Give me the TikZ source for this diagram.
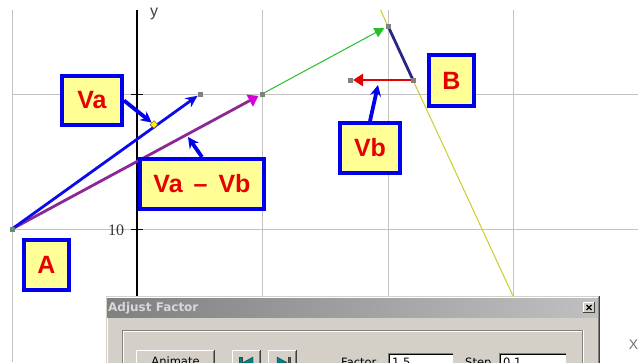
\documentclass[tikz,border=0pt]{standalone}
\usepackage{fontspec}
\setmainfont{Liberation Sans}
\newfontfamily\dlgfont{DejaVu Sans}
\newfontfamily\serf{Liberation Serif}
\usetikzlibrary{arrows.meta,shapes.geometric}
\definecolor{boxyellow}{RGB}{255,255,150}
\definecolor{boxblue}{RGB}{0,0,235}
\definecolor{labred}{RGB}{230,0,0}
\definecolor{gridgray}{RGB}{195,195,195}
\definecolor{vapurple}{RGB}{140,40,150}
\definecolor{vamag}{RGB}{215,0,215}
\definecolor{navyline}{RGB}{40,40,130}
\definecolor{yelline}{RGB}{205,205,40}
\definecolor{grnline}{RGB}{40,190,40}
\definecolor{dlgbg}{RGB}{212,208,200}
\definecolor{ptgray}{RGB}{128,128,128}
\definecolor{dkgray}{RGB}{64,64,64}
\definecolor{iconteal}{RGB}{0,128,128}
\definecolor{vablue}{RGB}{10,10,235}
\definecolor{ptgreen}{RGB}{100,140,120}
\definecolor{titletext}{RGB}{215,215,215}
\definecolor{titleleft}{RGB}{128,128,128}
\definecolor{titleright}{RGB}{192,192,192}
\tikzset{
  lab/.style={draw=boxblue, line width=4pt, fill=boxyellow, text=labred,
    font=\fontsize{25}{25}\selectfont\bfseries, inner sep=0pt},
  conn/.style={draw=boxblue, line width=3.8pt, -{Stealth[length=11pt,width=11pt]}},
  ptsq/.style={fill=ptgray, minimum size=5pt, inner sep=0pt, outer sep=0pt},
  vec/.style={line width=2.8pt},
  dlgtext/.style={font=\dlgfont\fontsize{11.5}{12}\selectfont, text=black, inner sep=0pt},
  gridline/.style={draw=gridgray, line width=1pt}
}
\begin{document}
\begin{tikzpicture}[x=1pt,y=-1pt]
\useasboundingbox (0,0) rectangle (638,362);
\clip (0,0) rectangle (638,362);
\fill[white] (0,0) rectangle (638,362);

% grid
\foreach \gx in {12,262,388,513} \draw[gridline] (\gx,10) -- (\gx,362);
\foreach \gy in {94,229} \draw[gridline] (12,\gy) -- (638,\gy);
% y axis
\draw[black, line width=1.2pt] (137,10) -- (137,362);
\draw[black, line width=1pt] (131,94) -- (143,94);
\draw[black, line width=1pt] (131,229) -- (143,229);
\node[font=\serf\fontsize{16}{16}\selectfont, inner sep=0pt, text=black!80] (ten) at (116,230) {10};
\node[font=\fontsize{16}{16}\selectfont, inner sep=0pt, text=black!75] (ylab) at (154,14) {y};

% points
\coordinate (cA) at (12,229);
\coordinate (cae) at (200,94);
\coordinate (cp) at (262,94);
\coordinate (cq) at (388,26);
\coordinate (cr) at (413,80);
\coordinate (cs) at (350,80);

% yellow line
\draw[yelline, line width=1pt] (380.5,10) -- (513.5,297);
% green
\draw[grnline, line width=1pt, -{Triangle[length=10pt,width=10pt]}, shorten >=4pt] (cp) -- (cq);
% purple Va - Vb
\draw[vec, vapurple, -{Triangle[length=10pt,width=13pt,color=vamag]}, shorten >=4pt] (cA) -- (cp);
% blue Va
\draw[vec, vablue, -{Stealth[length=12pt,width=11pt]}, shorten >=3pt] (cA) -- (cae);
% navy B side
\draw[vec, navyline] (cq) -- (cr);
% red Vb
\draw[vec, red!90!black, -{Triangle[length=10pt,width=12pt]}, shorten >=3pt] (cr) -- (cs);

% end squares
\node[ptsq, fill=ptgreen] (A) at (cA) {};
\node[ptsq] (ae) at (cae) {};
\node[ptsq] (p) at (cp) {};
\node[ptsq] (q) at (cq) {};
\node[ptsq] (r) at (cr) {};
\node[ptsq] (s) at (cs) {};
\node[diamond, fill=yellow, draw=black!70, line width=0.5pt, minimum size=8pt, inner sep=0pt] (dia) at (154,124.5) {};

% labels
\node[lab, minimum width=60pt, minimum height=49pt] (va) at (92,100.5) {Va};
\node[lab, minimum width=124pt, minimum height=50pt] (vavb) at (202,184) {Va\hspace{11pt}–\hspace{11pt}Vb};
\node[lab, minimum width=45pt, minimum height=51pt] (lb) at (451.5,80.5) {B};
\node[lab, minimum width=60pt, minimum height=50pt] (vb) at (370,148) {Vb};
\node[lab, minimum width=45pt, minimum height=50pt] (la) at (46.5,265) {A};

% connectors
\coordinate (tipvv) at (188,137);
\coordinate (tipvb) at (378,85);
\draw[conn] (va.east) -- (dia);
\draw[conn] (vavb.north) -- (tipvv);
\draw[conn] (vb.north) -- (tipvb);

% dialog window
\fill[dlgbg] (106,296) rectangle (600,370);
\draw[white, line width=1pt] (107.5,370) -- (107.5,297.5) -- (598.5,297.5);
\draw[dkgray, line width=1pt] (599.5,296) -- (599.5,370);
\draw[ptgray, line width=1pt] (598.5,297) -- (598.5,370);
\shade[left color=titleleft, right color=titleright] (107,298) rectangle (598,317);
\node[font=\dlgfont\bfseries\fontsize{12}{12}\selectfont, text=titletext, anchor=west, inner sep=0pt] (title) at (108,308) {Adjust Factor};
% close button
\fill[dlgbg] (583,302) rectangle (595,313);
\draw[white, line width=0.8pt] (583.4,313) -- (583.4,302.4) -- (595,302.4);
\draw[dkgray, line width=0.8pt] (594.6,302) -- (594.6,312.6) -- (583,312.6);
\draw[black, line width=1.1pt] (586.5,305) -- (591.5,310);
\draw[black, line width=1.1pt] (591.5,305) -- (586.5,310);
% group box
\draw[ptgray, line width=1pt] (122.5,370) -- (122.5,330.5) -- (582.5,330.5) -- (582.5,370);
\draw[white, line width=1pt] (123.5,370) -- (123.5,331.5) -- (581.5,331.5);
\draw[white, line width=1pt] (583.5,330) -- (583.5,370);
% buttons
\foreach \bx/\bw in {136/79,232/29,268/29}{
  \draw[white, line width=1pt] (\bx+0.5,372) -- (\bx+0.5,350.5) -- (\bx+\bw,350.5);
  \draw[dkgray, line width=1pt] (\bx+\bw-0.5,350) -- (\bx+\bw-0.5,372);
  \draw[ptgray, line width=1pt] (\bx+\bw-1.5,351) -- (\bx+\bw-1.5,372);
}
\node[dlgtext, anchor=base] (animate) at (175.5,365.5) {Animate};
% icons
\fill[iconteal, draw=dkgray, line width=0.4pt] (239.5,357) rectangle (242,368);
\fill[iconteal, draw=dkgray, line width=0.4pt] (253,357) -- (253,368) -- (243,362.5) -- cycle;
\fill[iconteal, draw=dkgray, line width=0.4pt] (277,357) -- (277,368) -- (287,362.5) -- cycle;
\fill[iconteal, draw=dkgray, line width=0.4pt] (288,357) rectangle (290.5,368);
% text fields
\node[dlgtext, anchor=base west] (factor) at (341,366) {Factor};
\node[dlgtext, anchor=base west] (step) at (465,366) {Step};
\foreach \fx/\fw in {388/66,499/68}{
  \fill[white] (\fx,353) rectangle (\fx+\fw,372);
  \draw[ptgray, line width=1pt] (\fx+0.5,372) -- (\fx+0.5,353.5) -- (\fx+\fw,353.5);
  \draw[black, line width=1pt] (\fx+1.5,372) -- (\fx+1.5,354.5) -- (\fx+\fw-1,354.5);
  \draw[dlgbg, line width=1pt] (\fx+\fw-0.5,353) -- (\fx+\fw-0.5,372);
}
\node[dlgtext, anchor=base west] (fval) at (392,366.5) {1.5};
\node[dlgtext, anchor=base west] (sval) at (503,366.5) {0.1};

% x label at right edge
\node[font=\fontsize{14}{14}\selectfont, text=black!55, inner sep=0pt] (xlab) at (633.5,345) {X};
\end{tikzpicture}
\end{document}
